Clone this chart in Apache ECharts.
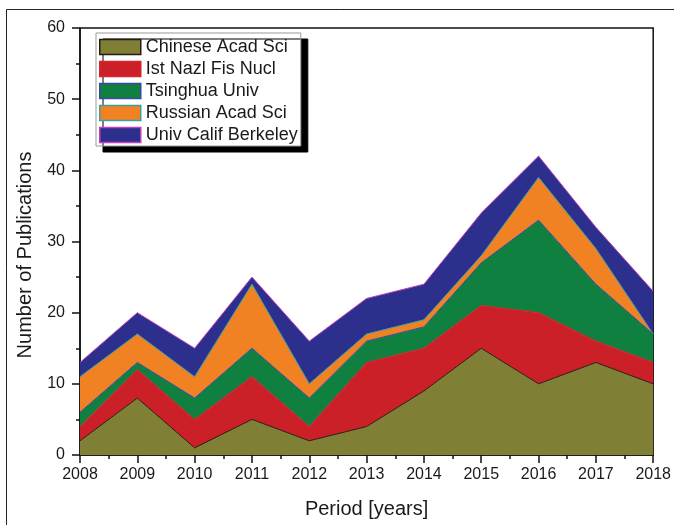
<!DOCTYPE html>
<html>
<head>
<meta charset="utf-8">
<script src="https://cdn.jsdelivr.net/npm/echarts@6/dist/echarts.min.js"></script>
<style>html,body{margin:0;padding:0;background:#fff;}#c{width:674px;height:525px;}</style>
</head>
<body>
<div id="c"></div>
<script>
const years = [2008, 2009, 2010, 2011, 2012, 2013, 2014, 2015, 2016, 2017, 2018];
const seriesNames = ['Chinese Acad Sci', 'Ist Nazl Fis Nucl', 'Tsinghua Univ', 'Russian Acad Sci', 'Univ Calif Berkeley'];
const chineseAcadSci   = [2, 8, 1, 5, 2, 4, 9, 15, 10, 13, 10];
const istNazlFisNucl   = [2, 4, 4, 6, 2, 9, 6, 6, 10, 3, 3];
const tsinghuaUniv     = [2, 1, 3, 4, 4, 3, 3, 6, 13, 8, 4];
const russianAcadSci   = [5, 4, 3, 9, 2, 1, 1, 1, 6, 5, 0];
const univCalifBerkeley= [2, 3, 4, 1, 6, 5, 5, 6, 3, 3, 6];
const yTicks = [0, 10, 20, 30, 40, 50, 60];

const valueSets = [chineseAcadSci, istNazlFisNucl, tsinghuaUniv, russianAcadSci, univCalifBerkeley];
const fills = ['#7f7f36', '#cc2028', '#0f803f', '#f08223', '#2c308c'];
const edges = ['#2a1a14', '#d8222a', '#3848a8', '#3aa0a0', '#c040c0'];
const FONT = 'Liberation Sans, Arial, sans-serif';

const chart = echarts.init(document.getElementById('c'));
chart.setOption({
  animation: false,
  backgroundColor: '#fff',
  textStyle: { fontFamily: FONT },
  grid: { left: 80, right: 16, top: 28, bottom: 70, show: true, borderColor: '#111', borderWidth: 1.5, backgroundColor: 'transparent' },
  legend: {
    orient: 'vertical', left: 96, top: 33,
    padding: [5, 3, 2, 3],
    itemWidth: 41, itemHeight: 15, itemGap: 4,
    backgroundColor: '#fff', borderColor: '#999', borderWidth: 1,
    shadowColor: '#000', shadowBlur: 0, shadowOffsetX: 7, shadowOffsetY: 6,
    icon: 'rect',
    textStyle: { fontSize: 18, color: '#1a1a1a', lineHeight: 18 },
    data: seriesNames.map((n, i) => ({ name: n, itemStyle: { color: fills[i], borderColor: edges[i], borderWidth: 1.5 } }))
  },
  graphic: [
    { type: 'rect', shape: { x: 6.5, y: 9.5, width: 1000, height: 1000 }, style: { fill: 'none', stroke: '#222', lineWidth: 1 }, silent: true, z: -1 },
    { type: 'text', x: 25, y: 255, rotation: Math.PI / 2, style: { text: 'Number of Publications', fontSize: 20, fill: '#1a1a1a', align: 'center', verticalAlign: 'middle', fontFamily: FONT } }
  ],
  xAxis: [{
    type: 'category', data: years.map(String), boundaryGap: false,
    name: 'Period [years]', nameLocation: 'middle', nameGap: 44,
    nameTextStyle: { fontSize: 20, color: '#1a1a1a' },
    axisLine: { show: true, lineStyle: { color: '#111', width: 1.5 } },
    axisTick: { show: true, inside: false, length: 8, lineStyle: { color: '#111', width: 1.5 } },
    axisLabel: { fontSize: 16, color: '#1a1a1a', margin: 12, interval: 0 },
    splitLine: { show: false }
  }, {
    type: 'value', position: 'bottom', min: years[0], max: years[years.length - 1], interval: 1,
    axisLine: { show: false }, axisTick: { show: false }, axisLabel: { show: false }, splitLine: { show: false },
    minorTick: { show: true, splitNumber: 2, length: 4, lineStyle: { color: '#111', width: 1.5 } }
  }],
  yAxis: {
    type: 'value', min: yTicks[0], max: yTicks[yTicks.length - 1], interval: 10,
    axisLine: { show: true, lineStyle: { color: '#111', width: 1.5 } },
    axisTick: { show: true, inside: false, length: 8, lineStyle: { color: '#111', width: 1.5 } },
    minorTick: { show: true, splitNumber: 2, length: 4, lineStyle: { color: '#111', width: 1.5 } },
    axisLabel: { fontSize: 16, color: '#1a1a1a', margin: 15 },
    splitLine: { show: false }
  },
  series: seriesNames.map((n, i) => ({
    name: n, type: 'line', stack: 'total', symbol: 'none',
    xAxisIndex: 0,
    data: valueSets[i],
    lineStyle: { color: edges[i], width: 1 },
    itemStyle: { color: fills[i] },
    areaStyle: { color: fills[i], opacity: 1 },
    z: 2
  }))
});
</script>
</body>
</html>
